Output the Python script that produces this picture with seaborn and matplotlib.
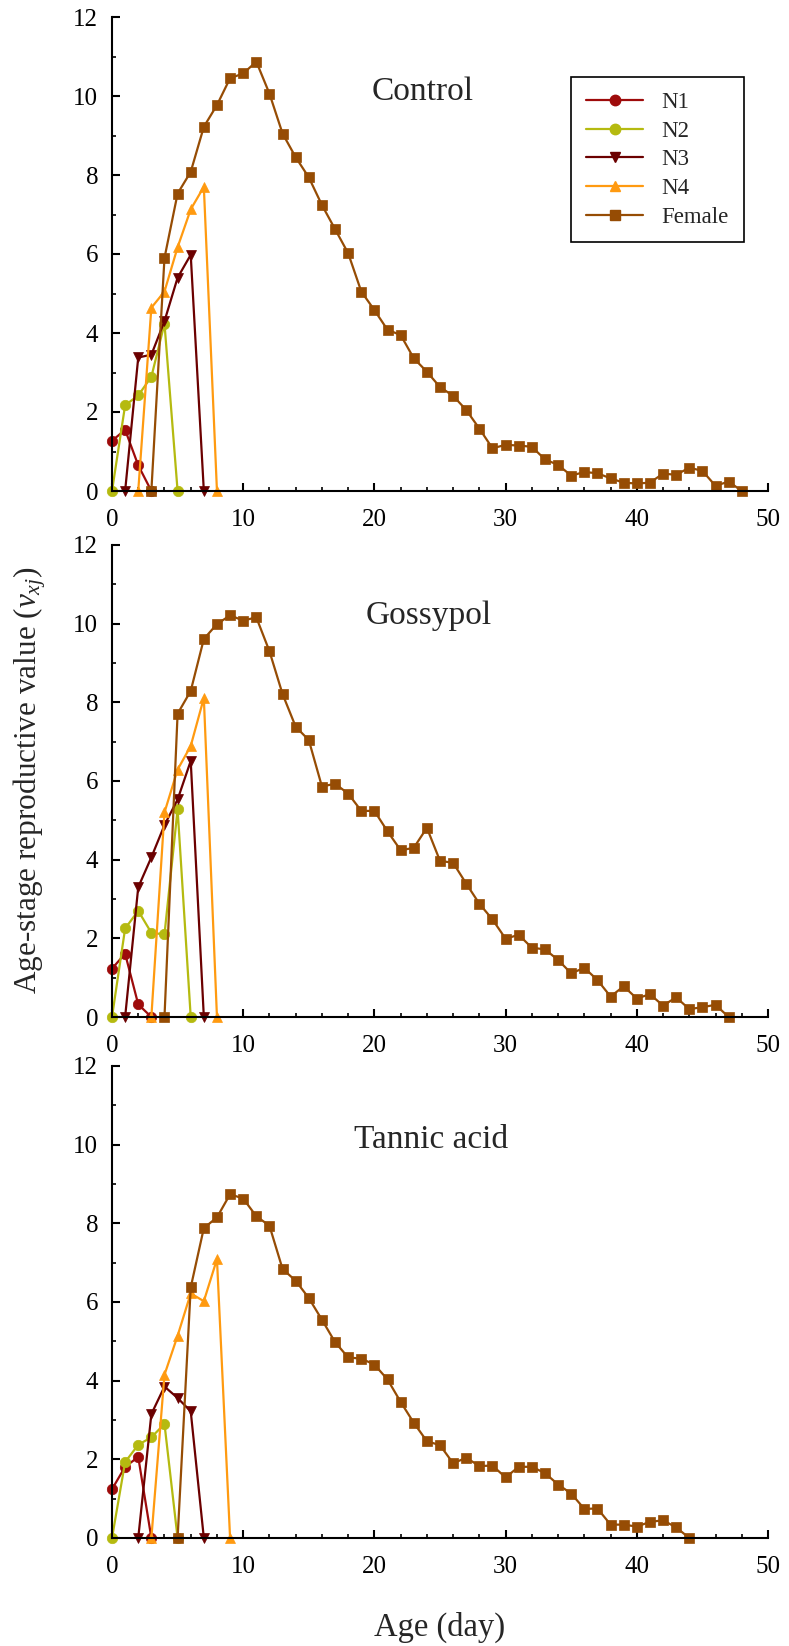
import matplotlib
matplotlib.use("Agg")
import matplotlib.pyplot as plt
import seaborn as sns
import numpy as np
import pandas as pd
from matplotlib.ticker import MultipleLocator
from matplotlib.lines import Line2D

# ---------------- data ----------------
stages = ["N1", "N2", "N3", "N4", "Female"]
panel_titles = ["Control", "Gossypol", "Tannic acid"]

# start day of each series, then values for consecutive days
ctrl_start = {"N1": 0, "N2": 0, "N3": 1, "N4": 2, "Female": 3}
ctrl_N1 = [1.27, 1.55, 0.65, 0]
ctrl_N2 = [0, 2.17, 2.42, 2.89, 4.24, 0]
ctrl_N3 = [0, 3.38, 3.45, 4.30, 5.40, 5.98, 0]
ctrl_N4 = [0, 4.64, 5.05, 6.17, 7.13, 7.70, 0]
ctrl_F = [0, 5.90, 7.53, 8.08, 9.22, 9.77, 10.45, 10.57, 10.87, 10.06, 9.05,
          8.45, 7.94, 7.24, 6.63, 6.02, 5.05, 4.58, 4.08, 3.95, 3.36, 3.02,
          2.63, 2.41, 2.05, 1.58, 1.08, 1.17, 1.15, 1.12, 0.80, 0.66, 0.39,
          0.48, 0.45, 0.32, 0.21, 0.19, 0.21, 0.44, 0.41, 0.59, 0.51, 0.13,
          0.24, 0]

goss_start = {"N1": 0, "N2": 0, "N3": 1, "N4": 3, "Female": 4}
goss_N1 = [1.23, 1.61, 0.32, 0]
goss_N2 = [0, 2.25, 2.70, 2.14, 2.10, 5.28, 0]
goss_N3 = [0, 3.30, 4.06, 4.88, 5.53, 6.51, 0]
goss_N4 = [0, 5.20, 6.29, 6.89, 8.11, 0]
goss_F = [0, 7.71, 8.29, 9.61, 9.99, 10.21, 10.08, 10.16, 9.30, 8.21, 7.38,
          7.04, 5.86, 5.93, 5.68, 5.24, 5.24, 4.72, 4.24, 4.30, 4.81, 3.97,
          3.92, 3.39, 2.88, 2.48, 1.99, 2.09, 1.76, 1.72, 1.45, 1.11, 1.25,
          0.94, 0.52, 0.78, 0.47, 0.58, 0.29, 0.50, 0.20, 0.25, 0.31, 0]

tann_start = {"N1": 0, "N2": 0, "N3": 2, "N4": 3, "Female": 5}
tann_N1 = [1.24, 1.81, 2.06, 0]
tann_N2 = [0, 1.93, 2.37, 2.56, 2.90, 0]
tann_N3 = [0, 3.15, 3.85, 3.56, 3.22, 0]
tann_N4 = [0, 4.15, 5.14, 6.22, 6.02, 7.09, 0]
tann_F = [0, 6.37, 7.88, 8.15, 8.74, 8.63, 8.18, 7.94, 6.84, 6.54, 6.10,
          5.55, 4.98, 4.59, 4.56, 4.41, 4.03, 3.46, 2.93, 2.46, 2.36, 1.90,
          2.04, 1.83, 1.84, 1.54, 1.81, 1.81, 1.65, 1.36, 1.13, 0.74, 0.75,
          0.34, 0.34, 0.29, 0.41, 0.45, 0.27, 0]

panels = [
    (ctrl_start, [ctrl_N1, ctrl_N2, ctrl_N3, ctrl_N4, ctrl_F]),
    (goss_start, [goss_N1, goss_N2, goss_N3, goss_N4, goss_F]),
    (tann_start, [tann_N1, tann_N2, tann_N3, tann_N4, tann_F]),
]

x_ticks = [0, 10, 20, 30, 40, 50]
y_ticks = [0, 2, 4, 6, 8, 10, 12]

# ---------------- style ----------------
colors = {"N1": "#9E0B0B", "N2": "#B5BA10", "N3": "#6B0000",
          "N4": "#FF9A10", "Female": "#964C04"}
markers = {"N1": "o", "N2": "o", "N3": "v", "N4": "^", "Female": "s"}

sns.set_theme(style="ticks")
plt.rcParams["font.family"] = ["Liberation Serif", "DejaVu Serif"]
plt.rcParams["mathtext.fontset"] = "custom"
plt.rcParams["mathtext.rm"] = "Liberation Serif"
plt.rcParams["mathtext.it"] = "Liberation Serif:italic"

W, H = 789, 1646
fig = plt.figure(figsize=(W / 100, H / 100), dpi=100)

left = 112 / W
width = (768 - 112) / W
ax_px = [(17, 491), (545, 1017), (1066, 1538)]
title_pos = [(0.473, 0.842), (0.483, 0.850), (0.486, 0.844)]

for i, ((starts, series), (top, bot)) in enumerate(zip(panels, ax_px)):
    ax = fig.add_axes([left, 1 - bot / H, width, (bot - top) / H])
    rows = []
    for st, vals in zip(stages, series):
        for k, v in enumerate(vals):
            rows.append({"Age": starts[st] + k, "Value": v, "Stage": st})
    df = pd.DataFrame(rows)
    sns.lineplot(data=df, x="Age", y="Value", hue="Stage", style="Stage",
                 hue_order=stages, style_order=stages, palette=colors,
                 markers=markers, dashes=False, markersize=7.5,
                 markeredgewidth=0.5, linewidth=1.6, estimator=None,
                 legend=False, clip_on=False, ax=ax)
    for ln in ax.lines:
        ln.set_markeredgecolor(ln.get_color())
    ax.set_xlim(0, 50)
    ax.set_ylim(0, 12)
    ax.set_xticks(x_ticks)
    ax.set_yticks(y_ticks)
    ax.xaxis.set_minor_locator(MultipleLocator(2))
    ax.yaxis.set_minor_locator(MultipleLocator(1))
    for s in ["top", "right"]:
        ax.spines[s].set_visible(False)
    for s in ["left", "bottom"]:
        ax.spines[s].set_linewidth(1.5)
        ax.spines[s].set_color("black")
    ax.tick_params(which="major", direction="in", length=5.5, width=1.5,
                   colors="black", labelsize=18)
    ax.tick_params(which="minor", direction="in", length=3.2, width=1.2,
                   colors="black")
    ax.tick_params(axis="x", which="major", pad=13)
    ax.tick_params(axis="y", which="major", pad=10)
    ax.set_xlabel("")
    ax.set_ylabel("")
    ax.text(title_pos[i][0], title_pos[i][1], panel_titles[i],
            transform=ax.transAxes, ha="center", va="center", fontsize=24)
    if i == 0:
        handles = [Line2D([0], [0], color=colors[s], marker=markers[s],
                          markersize=7.5, linewidth=1.6,
                          markeredgecolor=colors[s]) for s in stages]
        leg = ax.legend(handles, stages, loc="upper left",
                        bbox_to_anchor=(0.700, 0.873), borderaxespad=0,
                        fontsize=16.5, frameon=True, fancybox=False,
                        edgecolor="black", framealpha=1, handlelength=2.5,
                        handletextpad=0.8, labelspacing=0.33, borderpad=0.65)
        leg.get_frame().set_linewidth(1.2)

fig.text(30 / W, 1 - 780 / H, "Age-stage reproductive value ($v_{xj}$)",
         rotation=90, ha="center", va="center", fontsize=22.5)
fig.text(440 / W, 1 - 1627 / H, "Age (day)", ha="center", va="center",
         fontsize=23.5)

fig.savefig("out.png", dpi=100)
